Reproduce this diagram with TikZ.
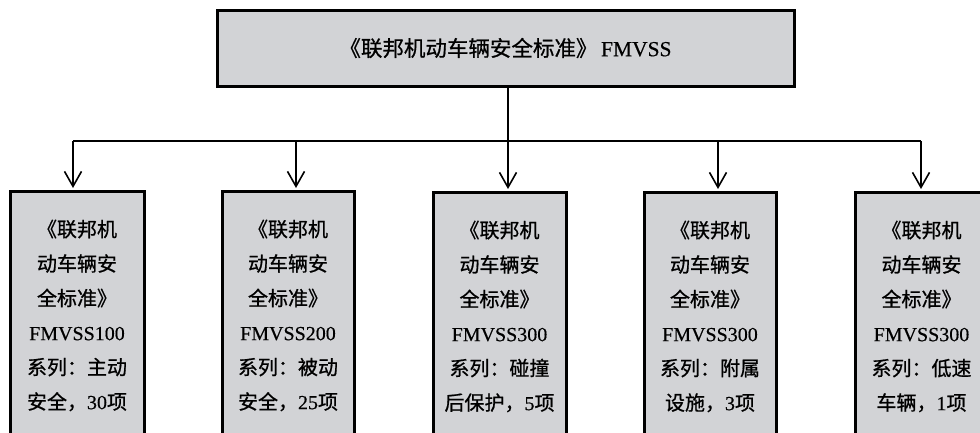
\documentclass[tikz,border=0pt]{standalone}
\usepackage{fontspec}
\setmainfont[FakeBold=0.4]{Liberation Serif}
\newfontfamily\cjk[FakeBold=0.8]{Noto Sans CJK SC}
\newcommand{\zh}[1]{{\cjk #1}}
\usetikzlibrary{arrows.meta}
\definecolor{boxgray}{RGB}{210,211,214}
\tikzset{
  boxnode/.style={draw=black, fill=boxgray, line width=3pt, inner sep=0pt,
    align=center, font=\fontsize{20}{34.5}\selectfont},
  conn/.style={line width=1.6pt, draw=black},
  arr/.style={conn, -{Straight Barb[length=15pt,width=17pt,line width=1.6pt]}, shorten >=1.5pt}
}
\begin{document}
\begin{tikzpicture}[x=1pt,y=-1pt]
\useasboundingbox (0,0) rectangle (980,432);
\clip (0,0) rectangle (980,432);
\node[boxnode, minimum width=577pt, minimum height=76pt, font=\fontsize{21.5}{26}\selectfont] (top) at (505.5,48)
  {\zh{《联邦机动车辆安全标准》}\,FMVSS};
\node[boxnode, minimum width=134pt, minimum height=249pt] (n1) at (77,315.5)
  {\zh{《联邦机}\\ \zh{动车辆安}\\ \zh{全标准》}\\ FMVSS100\\ \zh{系列：主动}\\ \zh{安全，}30\zh{项}};
\node[boxnode, minimum width=132pt, minimum height=249pt] (n2) at (288,315.5)
  {\zh{《联邦机}\\ \zh{动车辆安}\\ \zh{全标准》}\\ FMVSS200\\ \zh{系列：被动}\\ \zh{安全，}25\zh{项}};
\node[boxnode, minimum width=133pt, minimum height=249pt] (n3) at (499.5,316.5)
  {\zh{《联邦机}\\ \zh{动车辆安}\\ \zh{全标准》}\\ FMVSS300\\ \zh{系列：碰撞}\\ \zh{后保护，}5\zh{项}};
\node[boxnode, minimum width=132pt, minimum height=249pt] (n4) at (710,316.5)
  {\zh{《联邦机}\\ \zh{动车辆安}\\ \zh{全标准》}\\ FMVSS300\\ \zh{系列：附属}\\ \zh{设施，}3\zh{项}};
\node[boxnode, minimum width=133pt, minimum height=249pt] (n5) at (921.5,316.5)
  {\zh{《联邦机}\\ \zh{动车辆安}\\ \zh{全标准》}\\ FMVSS300\\ \zh{系列：低速}\\ \zh{车辆，}1\zh{项}};
\coordinate (b1) at (73,141);
\coordinate (b2) at (296,141);
\coordinate (b3) at (508,141);
\coordinate (b4) at (718,141);
\coordinate (b5) at (921,141);
\draw[conn] (b1) -- (b5);
\draw[arr] (top.south -| b3) -- (b3 |- n3.north);
\draw[arr] (b1) -- (b1 |- n1.north);
\draw[arr] (b2) -- (b2 |- n2.north);
\draw[arr] (b4) -- (b4 |- n4.north);
\draw[arr] (b5) -- (b5 |- n5.north);
\end{tikzpicture}
\end{document}
